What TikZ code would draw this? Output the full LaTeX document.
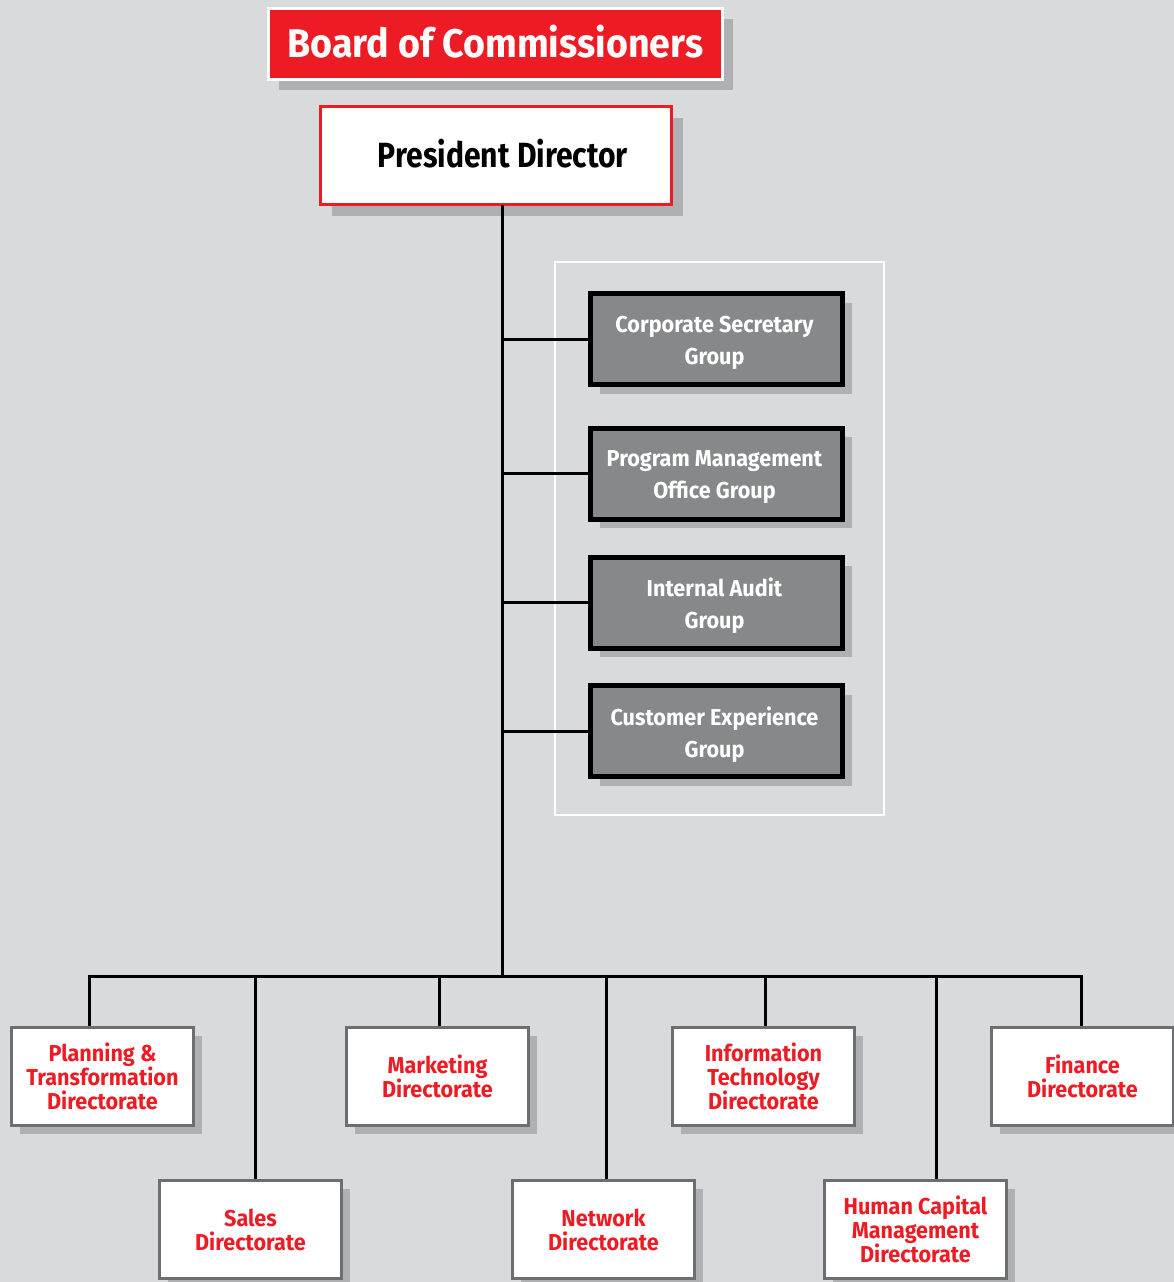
\documentclass[tikz,border=0pt]{standalone}
\usepackage{fontspec}
\setmainfont{Fira Sans}[FakeStretch=0.86]
\newfontfamily\widefont{Fira Sans}[FakeStretch=0.94]
\usetikzlibrary{shadows}
\definecolor{bg}{HTML}{D9DADC}
\definecolor{tred}{HTML}{ED1C24}
\definecolor{gbox}{HTML}{87888A}
\definecolor{shade}{HTML}{AFB0B3}
\definecolor{dborder}{HTML}{6D6E71}
\tikzset{
  conn/.style={draw=black, line width=3pt},
  shd/.style={drop shadow={shadow xshift=#1pt, shadow yshift=-#1pt, fill=shade, opacity=1}},
  dirbox/.style={draw=dborder, line width=3pt, fill=white, shd=8,
    minimum width=182pt, minimum height=98pt, inner sep=0pt, align=center,
    text=tred, font=\widefont\fontsize{23}{24}\selectfont\bfseries},
  grpbox/.style={draw=black, line width=5pt, fill=gbox, shd=9,
    minimum width=252pt, minimum height=91pt, inner sep=0pt},
  grplabel/.style={align=center, inner sep=0pt, text=white, xshift=-2pt, yshift=-3.5pt,
    font=\widefont\fontsize{23}{32}\selectfont\bfseries},
}
\begin{document}
\begin{tikzpicture}[x=1pt,y=-1pt]
\useasboundingbox[fill=bg] (0,0) rectangle (1174,1282);
% top
\node[fill=tred, draw=white, line width=3pt, shd=10, minimum width=454pt, minimum height=71pt,
  inner sep=0pt, label={[inner sep=0pt, yshift=2pt, text=white, font=\widefont\fontsize{40}{44}\selectfont\bfseries]center:Board of Commissioners}] (board) at (495.5,44) {};
\node[fill=white, draw=tred, line width=3pt, shd=11, minimum width=351pt, minimum height=98pt,
  inner sep=0pt] (pres) at (496,155.5) {};
\node[font=\fontsize{35}{38}\selectfont\bfseries, text=black, inner sep=0pt] (prestext) at (503,153.5) {President Director};
% group container
\node[draw=white, line width=2pt, minimum width=329pt, minimum height=553pt, inner sep=0pt] (grp) at (719.5,538.5) {};
\node[grpbox, label={[grplabel]center:Corporate Secretary\\Group}] (cs) at (716.5,339) {};
\node[grpbox, label={[grplabel]center:Program Management\\Office Group}] (pmo) at (716.5,473.5) {};
\node[grpbox, label={[grplabel]center:Internal Audit\\Group}] (ia) at (716.5,602.5) {};
\node[grpbox, label={[grplabel]center:Customer Experience\\Group}] (cx) at (716.5,731) {};
% directorates
\node[dirbox] (plan) at (102.5,1076.5) {Planning \&\\Transformation\\Directorate};
\node[dirbox] (mkt) at (437.5,1076.5) {Marketing\\Directorate};
\node[dirbox] (it) at (763.5,1076.5) {Information\\Technology\\Directorate};
\node[dirbox] (fin) at (1082.5,1076.5) {Finance\\Directorate};
\node[dirbox] (sales) at (250.5,1229.5) {Sales\\Directorate};
\node[dirbox] (net) at (603.5,1229.5) {Network\\Directorate};
\node[dirbox] (hcm) at (915.5,1229.5) {Human Capital\\Management\\Directorate};
% connectors
\coordinate (t) at (502,204.5);
\coordinate (b) at (502,976);
\coordinate (bl) at (89,976);
\coordinate (br) at (1081,976);
\coordinate (d2) at (255,976);
\coordinate (d3) at (439,976);
\coordinate (d4) at (606,976);
\coordinate (d5) at (765,976);
\coordinate (d6) at (936,976);
\draw[conn] (t) -- (b);
\draw[conn] (t |- cs.west) -- (cs.west);
\draw[conn] (t |- pmo.west) -- (pmo.west);
\draw[conn] (t |- ia.west) -- (ia.west);
\draw[conn] (t |- cx.west) -- (cx.west);
\draw[conn, line cap=rect] (bl) -- (br);
\draw[conn] (bl) -- (bl |- plan.north);
\draw[conn] (d2) -- (d2 |- sales.north);
\draw[conn] (d3) -- (d3 |- mkt.north);
\draw[conn] (d4) -- (d4 |- net.north);
\draw[conn] (d5) -- (d5 |- it.north);
\draw[conn] (d6) -- (d6 |- hcm.north);
\draw[conn] (br) -- (br |- fin.north);
\end{tikzpicture}
\end{document}
